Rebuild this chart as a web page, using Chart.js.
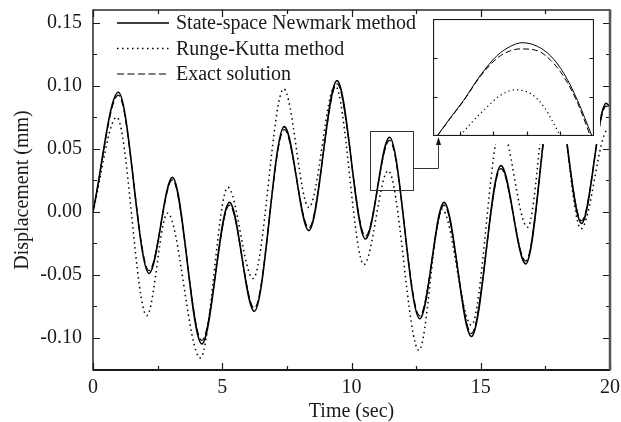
<!DOCTYPE html>
<html>
<head>
<meta charset="utf-8">
<script src="https://cdn.jsdelivr.net/npm/chart.js@4.4.1/dist/chart.umd.min.js"></script>
<style>
  html, body { margin: 0; padding: 0; background: #fff; }
  #wrap { position: relative; width: 621px; height: 422px; }
  #mainChart { position: absolute; left: 0; top: 0; }
  #insetChart { position: absolute; left: 433px; top: 19px; }
</style>
</head>
<body>
<div id="wrap">
  <canvas id="mainChart" width="621" height="422"></canvas>
  <canvas id="insetChart" width="161" height="117"></canvas>
</div>
<script>
const seriesLabels = ['State-space Newmark method', 'Runge-Kutta method', 'Exact solution'];

// main plot, read at the peaks and troughs (time in sec, displacement in mm)
const newmarkTime = [0, 0.98, 2.17, 3.07, 4.21, 5.28, 6.24, 7.40, 8.35, 9.44, 10.54, 11.47, 12.64, 13.58, 14.64, 15.78, 16.74, 17.85, 18.90, 19.85, 20.0];
const newmarkDisp = [0, 0.0947, -0.0490, 0.0272, -0.1050, 0.0074, -0.0790, 0.0675, -0.0150, 0.1040, -0.0217, 0.0590, -0.0850, 0.0074, -0.0990, 0.0365, -0.0415, 0.1050, -0.0093, 0.0860, 0.0830];

const rkTime = [0, 0.92, 2.08, 2.88, 4.15, 5.22, 6.19, 7.38, 8.35, 9.37, 10.48, 11.42, 12.61, 13.50, 14.64, 15.78, 16.81, 17.78, 18.88, 19.92, 20.0];
const rkDisp = [0, 0.0749, -0.0825, -0.0012, -0.1160, 0.0193, -0.0530, 0.0974, 0.0034, 0.1000, -0.0420, 0.0325, -0.1100, 0.0020, -0.0900, 0.0680, -0.0124, 0.1250, -0.0135, 0.0650, 0.0645];

const exactTime = [0, 0.98, 2.17, 3.07, 4.21, 5.28, 6.24, 7.40, 8.35, 9.44, 10.54, 11.47, 12.64, 13.58, 14.64, 15.78, 16.74, 17.85, 18.90, 19.85, 20.0];
const exactDisp = [0, 0.0925, -0.0468, 0.0252, -0.1022, 0.0052, -0.0766, 0.0652, -0.0128, 0.1015, -0.0195, 0.0566, -0.0826, 0.0052, -0.0966, 0.0342, -0.0392, 0.1020, -0.0072, 0.0838, 0.0812];

const xTickValues = [0, 5, 10, 15, 20];
const xMinorTicks = [2.5, 7.5, 12.5, 17.5];
const yTickValues = [-0.10, -0.05, 0.00, 0.05, 0.10, 0.15];
const yMinorTicks = [-0.125, -0.075, -0.025, 0.025, 0.075, 0.125];

// inset (zoom on the peak near 11.5 s)
const insetNewmarkTime = [10.83, 10.924, 11.025, 11.151, 11.277, 11.378, 11.466, 11.579, 11.68, 11.78, 11.88, 11.987];
const insetNewmarkDisp = [0.023, 0.0297, 0.0366, 0.0463, 0.0540, 0.0576, 0.0590, 0.0576, 0.0538, 0.0469, 0.0366, 0.023];
const insetExactTime = [10.83, 10.924, 11.025, 11.151, 11.277, 11.378, 11.45, 11.579, 11.68, 11.78, 11.88, 11.975];
const insetExactDisp = [0.023, 0.0295, 0.0364, 0.0459, 0.0530, 0.0559, 0.0566, 0.0559, 0.0521, 0.0456, 0.0357, 0.023];
const insetRkTime = [11.0, 11.1, 11.2, 11.3, 11.41, 11.53, 11.63, 11.75];
const insetRkDisp = [0.023, 0.0288, 0.0340, 0.0385, 0.0407, 0.0392, 0.0340, 0.023];
const insetXTicks = [11.0, 11.25, 11.5, 11.75];
const insetYTicks = [0.038, 0.053];

// marked window in the main plot
const zoomTime = [10.71, 12.36];
const zoomDisp = [0.0175, 0.0643];
const arrowDisp = 0.035;

const insetBox = { left: 433, top: 19, width: 161, height: 117 };

const serif = '"Liberation Serif", "Times New Roman", serif';
const ink = '#1a1a1a';

function toPoints(xs, ys) {
  return xs.map((x, i) => ({ x: x, y: ys[i] }));
}

function lineSet(label, xs, ys, width, dash) {
  return {
    label: label,
    data: toPoints(xs, ys),
    borderColor: '#000',
    borderWidth: width,
    borderDash: dash,
    borderCapStyle: 'butt',
    pointRadius: 0,
    fill: false,
    cubicInterpolationMode: 'monotone',
  };
}

// no label overhang padding, so the plot box sits where the reference has it
function noPad(s) {
  s.paddingTop = 0;
  s.paddingBottom = 0;
  s.paddingLeft = 0;
  s.paddingRight = 0;
}

// inward ticks on every side plus the frame
const frameTicks = {
  id: 'frameTicks',
  afterDraw(chart, args, opts) {
    const { ctx, chartArea: a, scales: { x, y } } = chart;
    ctx.save();
    ctx.strokeStyle = ink;
    ctx.lineWidth = 1.2;
    ctx.beginPath();
    const addX = (list, len) => list.forEach((v) => {
      const px = Math.round(x.getPixelForValue(v)) + 0.5;
      if (opts.bottom) { ctx.moveTo(px, a.bottom); ctx.lineTo(px, a.bottom - len); }
      if (opts.top) { ctx.moveTo(px, a.top); ctx.lineTo(px, a.top + len); }
    });
    const addY = (list, len) => list.forEach((v) => {
      const py = Math.round(y.getPixelForValue(v)) + 0.5;
      ctx.moveTo(a.left, py); ctx.lineTo(a.left + len, py);
      ctx.moveTo(a.right, py); ctx.lineTo(a.right - len, py);
    });
    addX(opts.xMajor, opts.major);
    addX(opts.xMinor || [], opts.minor);
    addY(opts.yMajor, opts.major);
    addY(opts.yMinor || [], opts.minor);
    ctx.stroke();

    ctx.lineWidth = opts.lineWidth;
    ctx.strokeRect(a.left, a.top, a.right - a.left, a.bottom - a.top);
    if (opts.heavy) {
      ctx.lineWidth = 2;
      ctx.beginPath();
      ctx.moveTo(a.left, a.bottom); ctx.lineTo(a.right, a.bottom);
      ctx.stroke();
      ctx.strokeStyle = '#555';
      ctx.lineWidth = 2.5;
      ctx.beginPath();
      ctx.moveTo(a.right, a.top); ctx.lineTo(a.right, a.bottom);
      ctx.stroke();
    }
    ctx.restore();
  },
};

const lineLegend = {
  id: 'lineLegend',
  afterDraw(chart, args, opts) {
    const { ctx } = chart;
    ctx.save();
    ctx.font = '20px ' + serif;
    ctx.fillStyle = ink;
    ctx.strokeStyle = '#000';
    ctx.textBaseline = 'middle';
    chart.data.datasets.forEach((ds, i) => {
      const yy = opts.top + i * opts.rowGap;
      ctx.lineWidth = ds.borderWidth;
      ctx.setLineDash(ds.borderDash || []);
      ctx.beginPath();
      ctx.moveTo(opts.lineStart, yy);
      ctx.lineTo(opts.lineEnd, yy);
      ctx.stroke();
      ctx.setLineDash([]);
      ctx.fillText(ds.label, opts.textX, yy + 1);
    });
    ctx.restore();
  },
};

// white area behind the inset, the marked window and the arrow
const zoomMarker = {
  id: 'zoomMarker',
  afterDatasetsDraw(chart) {
    const { ctx, scales: { x, y } } = chart;
    ctx.save();
    ctx.fillStyle = '#fff';
    ctx.fillRect(insetBox.left - 3, insetBox.top, insetBox.width + 9, insetBox.height + 8);

    const l = x.getPixelForValue(zoomTime[0]);
    const r = x.getPixelForValue(zoomTime[1]);
    const t = y.getPixelForValue(zoomDisp[1]);
    const b = y.getPixelForValue(zoomDisp[0]);
    ctx.strokeStyle = '#333';
    ctx.lineWidth = 1;
    ctx.strokeRect(Math.round(l) + 0.5, Math.round(t) + 0.5, Math.round(r - l), Math.round(b - t));

    const ay = Math.round(y.getPixelForValue(arrowDisp)) + 0.5;
    const ax = insetBox.left + 5.5;
    const tip = insetBox.top + insetBox.height + 1;
    ctx.beginPath();
    ctx.moveTo(Math.round(r) + 0.5, ay);
    ctx.lineTo(ax, ay);
    ctx.lineTo(ax, tip + 6);
    ctx.stroke();
    ctx.fillStyle = '#111';
    ctx.beginPath();
    ctx.moveTo(ax, tip);
    ctx.lineTo(ax - 2.5, tip + 8);
    ctx.lineTo(ax + 2.5, tip + 8);
    ctx.closePath();
    ctx.fill();
    ctx.restore();
  },
};

const whiteBack = {
  id: 'whiteBack',
  beforeDraw(chart) {
    const { ctx, width, height } = chart;
    ctx.save();
    ctx.fillStyle = '#fff';
    ctx.fillRect(0, 0, width, height);
    ctx.restore();
  },
};

function renderMainChart() {
  const ctx = document.getElementById('mainChart').getContext('2d');
  new Chart(ctx, {
    type: 'line',
    data: {
      datasets: [
        lineSet(seriesLabels[0], newmarkTime, newmarkDisp, 1.6, []),
        lineSet(seriesLabels[1], rkTime, rkDisp, 1.5, [1.5, 3.5]),
        lineSet(seriesLabels[2], exactTime, exactDisp, 1.2, [7, 3.5]),
      ],
    },
    options: {
      responsive: false,
      animation: false,
      layout: { autoPadding: false, padding: { top: 10, right: 11, bottom: 0, left: 11 } },
      scales: {
        x: {
          type: 'linear',
          min: 0,
          max: 20,
          grid: { display: false, drawTicks: false },
          border: { display: false },
          afterBuildTicks: (s) => { s.ticks = xTickValues.map((v) => ({ value: v })); },
          afterFit: (s) => { s.height = 52; noPad(s); },
          ticks: {
            padding: 6,
            maxRotation: 0,
            autoSkip: false,
            color: ink,
            font: { family: serif, size: 20 },
            callback: (v) => String(v),
          },
          title: {
            display: true,
            text: 'Time (sec)',
            color: ink,
            padding: 0,
            font: { family: serif, size: 20, lineHeight: 1 },
          },
        },
        y: {
          type: 'linear',
          min: -0.1256,
          max: 0.160,
          grid: { display: false, drawTicks: false },
          border: { display: false },
          afterBuildTicks: (s) => { s.ticks = yTickValues.map((v) => ({ value: v })); },
          afterFit: (s) => { s.width = 82; noPad(s); },
          ticks: {
            padding: 11,
            autoSkip: false,
            color: ink,
            font: { family: serif, size: 20 },
            callback: (v) => v.toFixed(2),
          },
          title: {
            display: true,
            text: 'Displacement (mm)',
            color: ink,
            padding: { top: 2, bottom: 0 },
            font: { family: serif, size: 20, lineHeight: 1 },
          },
        },
      },
      plugins: {
        legend: { display: false },
        tooltip: { enabled: false },
        frameTicks: {
          xMajor: xTickValues, xMinor: xMinorTicks,
          yMajor: yTickValues, yMinor: yMinorTicks,
          major: 7, minor: 4, lineWidth: 1.4, top: true, bottom: true, heavy: true,
        },
        lineLegend: { top: 23, rowGap: 25.5, lineStart: 117, lineEnd: 169, textX: 176 },
      },
    },
    plugins: [whiteBack, zoomMarker, frameTicks, lineLegend],
  });
}

function renderInsetChart() {
  const ctx = document.getElementById('insetChart').getContext('2d');
  new Chart(ctx, {
    type: 'line',
    data: {
      datasets: [
        lineSet(seriesLabels[0], insetNewmarkTime, insetNewmarkDisp, 1, []),
        lineSet(seriesLabels[1], insetRkTime, insetRkDisp, 1.2, [1.2, 3.2]),
        lineSet(seriesLabels[2], insetExactTime, insetExactDisp, 1, [6, 3]),
      ],
    },
    options: {
      responsive: false,
      animation: false,
      layout: { autoPadding: false, padding: { top: 0.5, right: 0.5, bottom: 0.5, left: 0.5 } },
      scales: {
        x: { type: 'linear', min: 10.8, max: 12.0, display: false },
        y: { type: 'linear', min: 0.023, max: 0.068, display: false },
      },
      plugins: {
        legend: { display: false },
        tooltip: { enabled: false },
        frameTicks: {
          xMajor: insetXTicks, yMajor: insetYTicks,
          major: 4, minor: 0, lineWidth: 1.2, top: false, bottom: true, heavy: false,
        },
      },
    },
    plugins: [whiteBack, frameTicks],
  });
}

document.addEventListener('DOMContentLoaded', () => {
  renderMainChart();
  renderInsetChart();
});
</script>
</body>
</html>
